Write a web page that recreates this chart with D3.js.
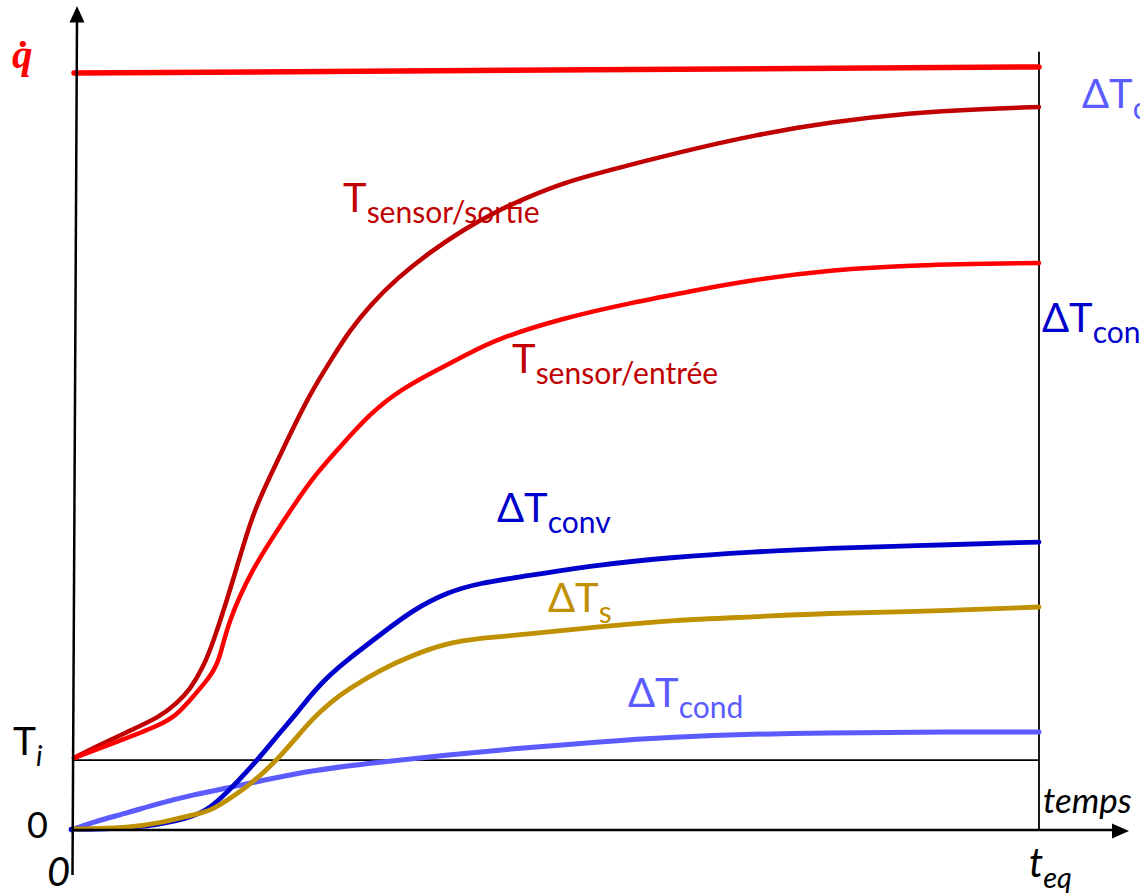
<!DOCTYPE html>
<html>
<head>
<meta charset="utf-8">
<script src="https://cdn.jsdelivr.net/npm/d3@7"></script>
<style>
  html, body { margin: 0; padding: 0; background: #fff; overflow: hidden; }
  svg { display: block; }
  text { font-family: Lato, "Noto Sans", sans-serif; }
</style>
</head>
<body>
<svg id="chart" width="1140" height="896"></svg>
<script>
// ---- Data (time 0..100 = 0..t_eq, value in arbitrary units) ----
const qDot = [[0, 99.6], [100, 100.4]];
const Ti = 9.2;

const tSortie = [[0,9.47],[1.97,10.79],[5.49,12.89],[8.91,14.87],[10.67,16.71],[12.0,18.42],[13.4,21.45],[14.4,24.61],[16.2,31.58],[18.5,41.71],[20.3,46.45],[22.1,51.32],[24.5,57.5],[26.5,61.58],[28.6,65.79],[30.7,69.08],[33.5,72.63],[36.9,76.05],[40.3,78.95],[43.8,81.45],[47.3,83.42],[50.7,85.13],[54.8,86.6],[62.8,89.21],[70.7,91.5],[78.5,93.16],[86.5,94.34],[94.4,94.9],[100,95.13]];

const tEntree = [[0,9.47],[5.49,12.11],[8.91,13.82],[10.67,15.13],[12.3,17.5],[14.1,20.13],[15.1,22.37],[15.9,27.2],[18.5,34.47],[21.3,39.87],[24.5,46.05],[27.3,50.0],[30.7,54.87],[34.1,58.16],[37.6,60.53],[41.0,62.76],[43.8,64.61],[50.7,67.37],[57.6,69.34],[64.6,71.05],[70.1,72.37],[78.5,73.68],[86.5,74.34],[100,74.61]];

const dTconv = [[-0.3,0.1],[3.73,0.1],[8.91,0.66],[12.3,1.71],[14.1,2.89],[15.9,5.0],[17.9,7.63],[19.6,10.13],[21.3,12.76],[23.1,15.39],[24.8,18.16],[26.5,20.39],[28.3,22.37],[31.7,25.66],[35.1,28.95],[38.7,31.32],[42.1,32.5],[46.2,33.29],[54.1,34.87],[62.2,35.92],[70.3,36.58],[78.3,37.11],[86.4,37.37],[100,37.89]];

const dTs = [[0,0.13],[5.49,0.26],[8.91,0.92],[12.3,1.97],[14.1,2.5],[15.9,3.95],[17.9,5.66],[19.6,7.5],[21.3,9.61],[23.1,12.24],[24.8,14.74],[26.5,16.71],[28.3,18.42],[31.7,21.05],[35.1,23.03],[38.7,24.61],[42.1,25.26],[46.2,25.66],[54.1,26.71],[62.2,27.63],[70.3,28.03],[78.3,28.55],[86.4,28.68],[100,29.34]];

const dTcond = [[-0.3,0.0],[1.97,1.05],[5.49,2.24],[8.91,3.55],[12.3,4.61],[15.9,5.53],[19.3,6.45],[24.8,7.89],[31.7,8.95],[38.7,9.87],[46.2,10.79],[54.1,11.58],[62.2,12.24],[70.3,12.63],[78.3,12.76],[86.4,12.89],[100,12.89]];

const yTickLabels = [{v: 0, main: "0", sub: ""}, {v: Ti, main: "T", sub: "i"}];
const xTickLabels = [{t: 0, main: "0", sub: ""}, {t: 100, main: "t", sub: "eq"}];

// ---- Scales ----
const svg = d3.select("#chart");
const x = d3.scaleLinear().domain([0, 100]).range([74, 1039]);
const y = d3.scaleLinear().domain([0, 100]).range([830, 70]);

const line = d3.line().x(d => x(d[0])).y(d => y(d[1])).curve(d3.curveBasis);

// ---- Reference lines ----
svg.append("line").attr("x1", x(0)).attr("x2", x(100)).attr("y1", y(Ti)).attr("y2", y(Ti))
  .attr("stroke", "#000").attr("stroke-width", 1.6);
svg.append("line").attr("x1", x(100)).attr("x2", x(100)).attr("y1", y(102.4)).attr("y2", y(0))
  .attr("stroke", "#000").attr("stroke-width", 1.8);

// ---- Curves ----
const series = [
  {d: dTcond, c: "#5B5BFF", w: 5},
  {d: dTconv, c: "#0000CC", w: 4.8},
  {d: dTs, c: "#BF9000", w: 4.8},
  {d: tSortie, c: "#C00000", w: 4.5},
  {d: tEntree, c: "#FF0000", w: 4.5},
  {d: qDot, c: "#FF0000", w: 5.5}
];
series.forEach(s => {
  svg.append("path").datum(s.d).attr("d", line)
    .attr("fill", "none").attr("stroke", s.c).attr("stroke-width", s.w)
    .attr("stroke-linecap", "round").attr("stroke-linejoin", "round");
});

// ---- Axes ----
svg.append("line").attr("x1", 72.5).attr("y1", 875).attr("x2", 77).attr("y2", 20)
  .attr("stroke", "#000").attr("stroke-width", 2.5);
svg.append("path").attr("d", "M77,6 L69.5,22.5 L84.5,22.5 Z").attr("fill", "#000");
svg.append("line").attr("x1", 72).attr("y1", y(0)).attr("x2", 1115).attr("y2", y(0))
  .attr("stroke", "#000").attr("stroke-width", 2.6);
svg.append("path").attr("d", "M1129,831 L1112,823.5 L1112,838.5 Z").attr("fill", "#000");

// ---- Tick labels ----
yTickLabels.forEach(d => {
  const t = svg.append("text").attr("x", d.sub ? 13 : 27).attr("y", y(d.v) + (d.sub ? -5 : 8))
    .attr("font-size", d.sub ? 39 : 36).attr("fill", "#000");
  t.append("tspan").text(d.main);
  if (d.sub) t.append("tspan").attr("dy", 11).attr("font-size", 28).attr("font-style", "italic").text(d.sub);
});
xTickLabels.forEach(d => {
  const t = svg.append("text").attr("x", d.sub ? x(d.t) - 10 : x(d.t) - 27).attr("y", d.sub ? 877 : 886)
    .attr("font-size", 40).attr("font-style", "italic").attr("fill", "#000");
  t.append("tspan").text(d.main);
  if (d.sub) t.append("tspan").attr("dy", 11).attr("font-size", 29).text(d.sub);
});
svg.append("text").attr("x", 1043).attr("y", 813).attr("font-size", 35).attr("font-style", "italic")
  .attr("fill", "#000").text("temps");

// q dot
svg.append("text").attr("x", 12).attr("y", 68)
  .style("font-family", "'Liberation Serif', 'DejaVu Serif', serif")
  .attr("font-size", 41).attr("font-weight", "bold").attr("font-style", "italic")
  .attr("fill", "#FF0000").text("q\u0307");

// ---- Series labels ----
const labels = [
  {x: 343, y: 212, main: "T", sub: "sensor/sortie", c: "#C00000"},
  {x: 512, y: 373, main: "T", sub: "sensor/entrée", c: "#C00000"},
  {x: 497, y: 522, main: "\u0394T", sub: "conv", c: "#0000CC"},
  {x: 548, y: 612, main: "\u0394T", sub: "s", c: "#BF9000"},
  {x: 628, y: 707, main: "\u0394T", sub: "cond", c: "#5B5BFF"},
  {x: 1082, y: 108, main: "\u0394T", sub: "cond", c: "#5B5BFF"},
  {x: 1042, y: 332, main: "\u0394T", sub: "conv", c: "#0000CC"}
];
labels.forEach(l => {
  const t = svg.append("text").attr("x", l.x).attr("y", l.y).attr("fill", l.c).attr("font-size", 40);
  t.append("tspan").text(l.main);
  t.append("tspan").attr("dy", 11).attr("font-size", 30).text(l.sub);
});
</script>
</body>
</html>
